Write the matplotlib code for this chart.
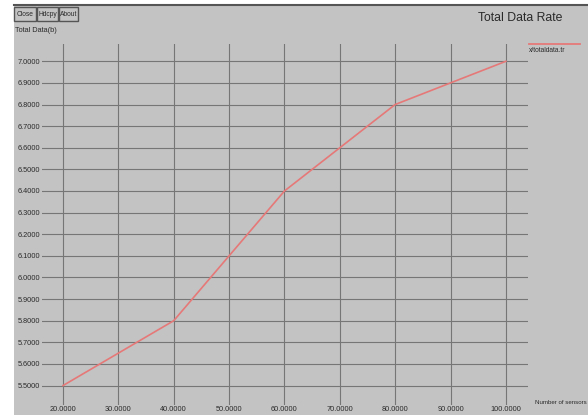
import matplotlib
matplotlib.use("Agg")
import matplotlib.pyplot as plt
from matplotlib.patches import Rectangle

x_values = [20, 40, 60, 80, 100]
y_values = [5.5, 5.8, 6.4, 6.8, 7.0]
x_ticks = [20, 30, 40, 50, 60, 70, 80, 90, 100]
y_ticks = [5.5, 5.6, 5.7, 5.8, 5.9, 6.0, 6.1, 6.2, 6.3, 6.4, 6.5, 6.6, 6.7, 6.8, 6.9, 7.0]
buttons = ["Close", "Hdcpy", "About"]

FONT = ["Liberation Sans", "DejaVu Sans"]
BG = "#c3c3c3"
TXT = "#2a2a2a"
W, H = 588, 415

fig = plt.figure(figsize=(W / 100, H / 100), dpi=100)
fig.patch.set_facecolor("white")

# gray window area
fig.patches.append(Rectangle((14 / W, 0), 1 - 14 / W, 1 - 5 / H,
                             transform=fig.transFigure, facecolor=BG,
                             edgecolor="none", zorder=-5))
fig.lines.append(plt.Line2D([14 / W, 1], [1 - 5 / H, 1 - 5 / H],
                            transform=fig.transFigure, color="#555555", lw=1.5, zorder=-4))

def px(xp, yp):
    return xp / W, 1 - yp / H

ax = fig.add_axes([42 / W, 10 / H, 486 / W, 361 / H])
ax.set_zorder(1)
ax.set_facecolor("none")
ax.set_xlim(16.2, 104)
ax.set_ylim(5.41, 7.08)
for s in ax.spines.values():
    s.set_visible(False)
ax.set_xticks(x_ticks)
ax.set_yticks(y_ticks)
ax.set_xticklabels([f"{v:.4f}" for v in x_ticks], family=FONT, fontsize=5.3, color=TXT)
ax.set_yticklabels([f"{v:.4f}" for v in y_ticks], family=FONT, fontsize=5.3, color=TXT)
ax.tick_params(axis="x", length=0, pad=1)
ax.tick_params(axis="y", length=0, pad=1.5)
ax.grid(True, color="#767676", lw=0.8)
ax.plot(x_values, y_values, color="#e67878", lw=1.2, zorder=3)

# buttons
bx = [(14, 36), (37, 58), (59, 78)]
for (x0, x1), lab in zip(bx, buttons):
    fig.patches.append(Rectangle(px(x0, 21), (x1 - x0) / W, 14 / H,
                                 transform=fig.transFigure, facecolor=BG,
                                 edgecolor="#555555", lw=1.0, zorder=2))
    fig.text(*px((x0 + x1) / 2, 14.5), lab, family=FONT, fontsize=4.8,
             ha="center", va="center", color=TXT, zorder=3)

fig.text(*px(15, 31), "Total Data(b)", family=FONT, fontsize=5.3, ha="left", va="center", color=TXT)
fig.text(*px(562, 18), "Total Data Rate", family=FONT, fontsize=8.8, ha="right", va="center", color=TXT)

# legend
fig.lines.append(plt.Line2D([529 / W, 580 / W], [1 - 44 / H, 1 - 44 / H],
                            transform=fig.transFigure, color="#e67878", lw=1.3))
fig.text(*px(529, 50), "x/totaldata.tr", family=FONT, fontsize=4.8, ha="left", va="center", color=TXT)

fig.text(*px(535, 402), "Number of sensors", family=FONT, fontsize=4.4, ha="left", va="center", color=TXT)

fig.savefig("out.png", dpi=100)
